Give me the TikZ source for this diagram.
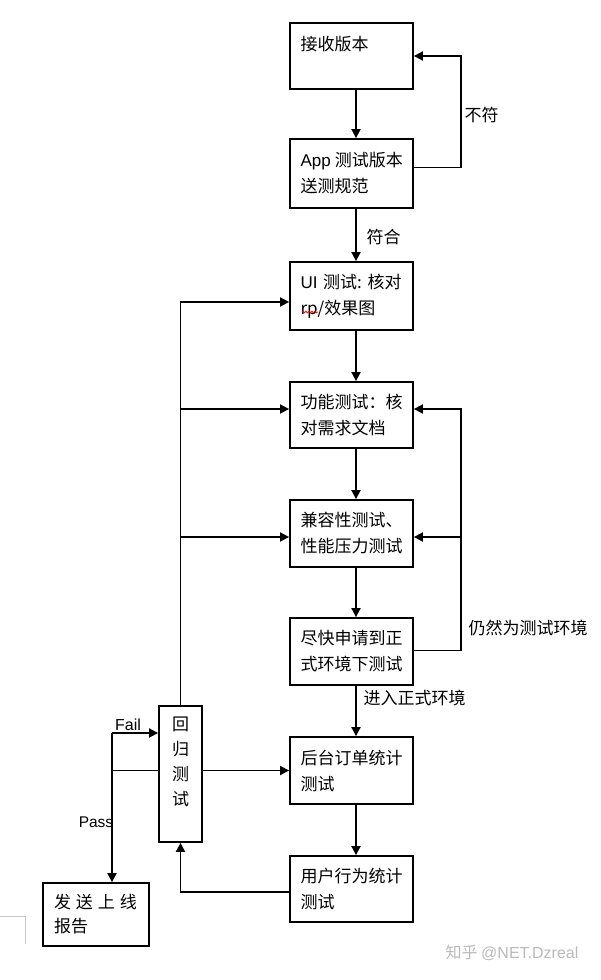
\documentclass[tikz,border=0pt]{standalone}
\usepackage{fontspec}
\setmainfont{Liberation Sans}
\newfontfamily\cjk{Noto Sans CJK SC}
\usepackage{tikz}
\usetikzlibrary{arrows.meta}
\usetikzlibrary{decorations.pathmorphing}

\begin{document}
\begin{tikzpicture}[x=1pt,y=-1pt,
    every node/.style={font=\cjk\fontsize{17}{26}\selectfont},
    box/.style={draw,line width=1.8pt,minimum width=123pt,text width=102pt,align=left,inner xsep=10.5pt,inner ysep=0pt},
    arr/.style={-{Triangle[length=9pt,width=9pt]},line width=1.8pt},
    ln/.style={line width=1.8pt}]

    \useasboundingbox (0,0) rectangle (600,980);

    \node[box,minimum height=66pt]         (recv) at (351.5,56)          {接收版本\\~};
    \node[box,minimum height=69pt]         (spec) at (351.5,173.5)       {\mbox{{\rmfamily App}\hspace{4pt}测试版本}\\送测规范};
    \node[box,minimum height=68pt]         (ui) at (351.5,296)           {{\rmfamily UI} 测试:\ 核对\\rp/效果图};
    \node[box,minimum height=66pt]         (func) at (351.5,415)         {功能测试：核\\对需求文档};
    \node[box,minimum height=67pt]         (compat) at (351.5,533.5)     {兼容性测试、\\性能压力测试};
    \node[box,minimum height=67pt]         (apply) at (351.5,651.5)      {尽快申请到正\\式环境下测试};
    \node[box,minimum height=67pt]         (order) at (351.5,770.5)      {后台订单统计\\测试};
    \node[box,minimum height=66pt]         (user) at (351.5,889)         {用户行为统计\\测试};

    \node[draw,line width=1.8pt,minimum width=43pt,minimum height=136pt,text width=17pt,align=center,inner sep=0pt,
          font=\cjk\fontsize{17}{25}\selectfont]  (regr) at (180.5,774)  {回\\归\\测\\试\\~};
    \node[box,minimum width=106pt,minimum height=63pt,text width=84pt,inner xsep=11pt,
          font=\cjk\fontsize{17}{24}\selectfont]  (send) at (96,914.5)   {发\hspace{5pt}送\hspace{5pt}上\hspace{5pt}线\\报告};

    \node[anchor=west]  (nomatch) at (461,115)    {不符};
    \node[anchor=west]  (match) at (363,237)      {符合};
    \node[anchor=west]  (stilltest) at (465,628)  {仍然为测试环境};
    \node[anchor=west]  (goprod) at (360,698)     {进入正式环境};
    \node[font=\fontsize{16}{16}\selectfont]    (fail) at (128,725)  {Fail};
    \node[font=\fontsize{15.5}{16}\selectfont]  (pass) at (96,822)   {Pass};

    \coordinate (rj) at (461,0);
    \coordinate (lj) at (180.5,0);
    \coordinate (pj) at (112,770.5);
    \coordinate (fj) at (112,733);

    \draw[arr] ([xshift=4.5pt]recv.south) -- ([xshift=4.5pt]spec.north);
    \draw[arr] ([xshift=4.5pt]spec.south) -- ([xshift=4.5pt]ui.north);
    \draw[arr] ([xshift=4.5pt]ui.south) -- ([xshift=4.5pt]func.north);
    \draw[arr] ([xshift=4.5pt]func.south) -- ([xshift=4.5pt]compat.north);
    \draw[arr] ([xshift=4.5pt]compat.south) -- ([xshift=4.5pt]apply.north);
    \draw[arr] ([xshift=4.5pt]apply.south) -- ([xshift=4.5pt]order.north);
    \draw[arr] ([xshift=4.5pt]order.south) -- ([xshift=4.5pt]user.north);

    \draw[arr] ([yshift=6pt]spec.east) -| (rj |- recv.east) -- (recv.east);
    \draw[arr] ([yshift=1pt]apply.east) -| ([yshift=6pt]rj |- func.east) -- ([yshift=6pt]func.east);
    \draw[arr] ([yshift=-3.5pt]rj |- compat.east) -- ([yshift=-3.5pt]compat.east);

    \draw[arr] (regr.north) |- ([yshift=-6pt]ui.west);
    \draw[arr] ([yshift=6pt]lj |- func.west) -- ([yshift=6pt]func.west);
    \draw[arr] ([yshift=-3.5pt]lj |- compat.west) -- ([yshift=-3.5pt]compat.west);

    \draw[arr] (regr.east |- order.west) -- (order.west);
    \draw[arr] ([yshift=-3pt]user.west) -| (regr.south);

    \draw[ln] (regr.west |- pj) -- (pj);
    \draw[arr] (fj) -- (pj |- send.north);
    \draw[arr] (fj) -- (fj -| regr.west);

    \draw[red,line width=0.7pt,decorate,decoration={snake,amplitude=0.9pt,segment length=3pt}] (302,312) -- (318,312);
    \draw[gray!45,line width=1pt] (0,916) -- (25,916) -- (25,944);
    \node[text=gray!55,font=\cjk\fontsize{16}{16}\selectfont]  (wm) at (512,953)  {知乎 {\rmfamily @NET.Dzreal}};
\end{tikzpicture}
\end{document}
